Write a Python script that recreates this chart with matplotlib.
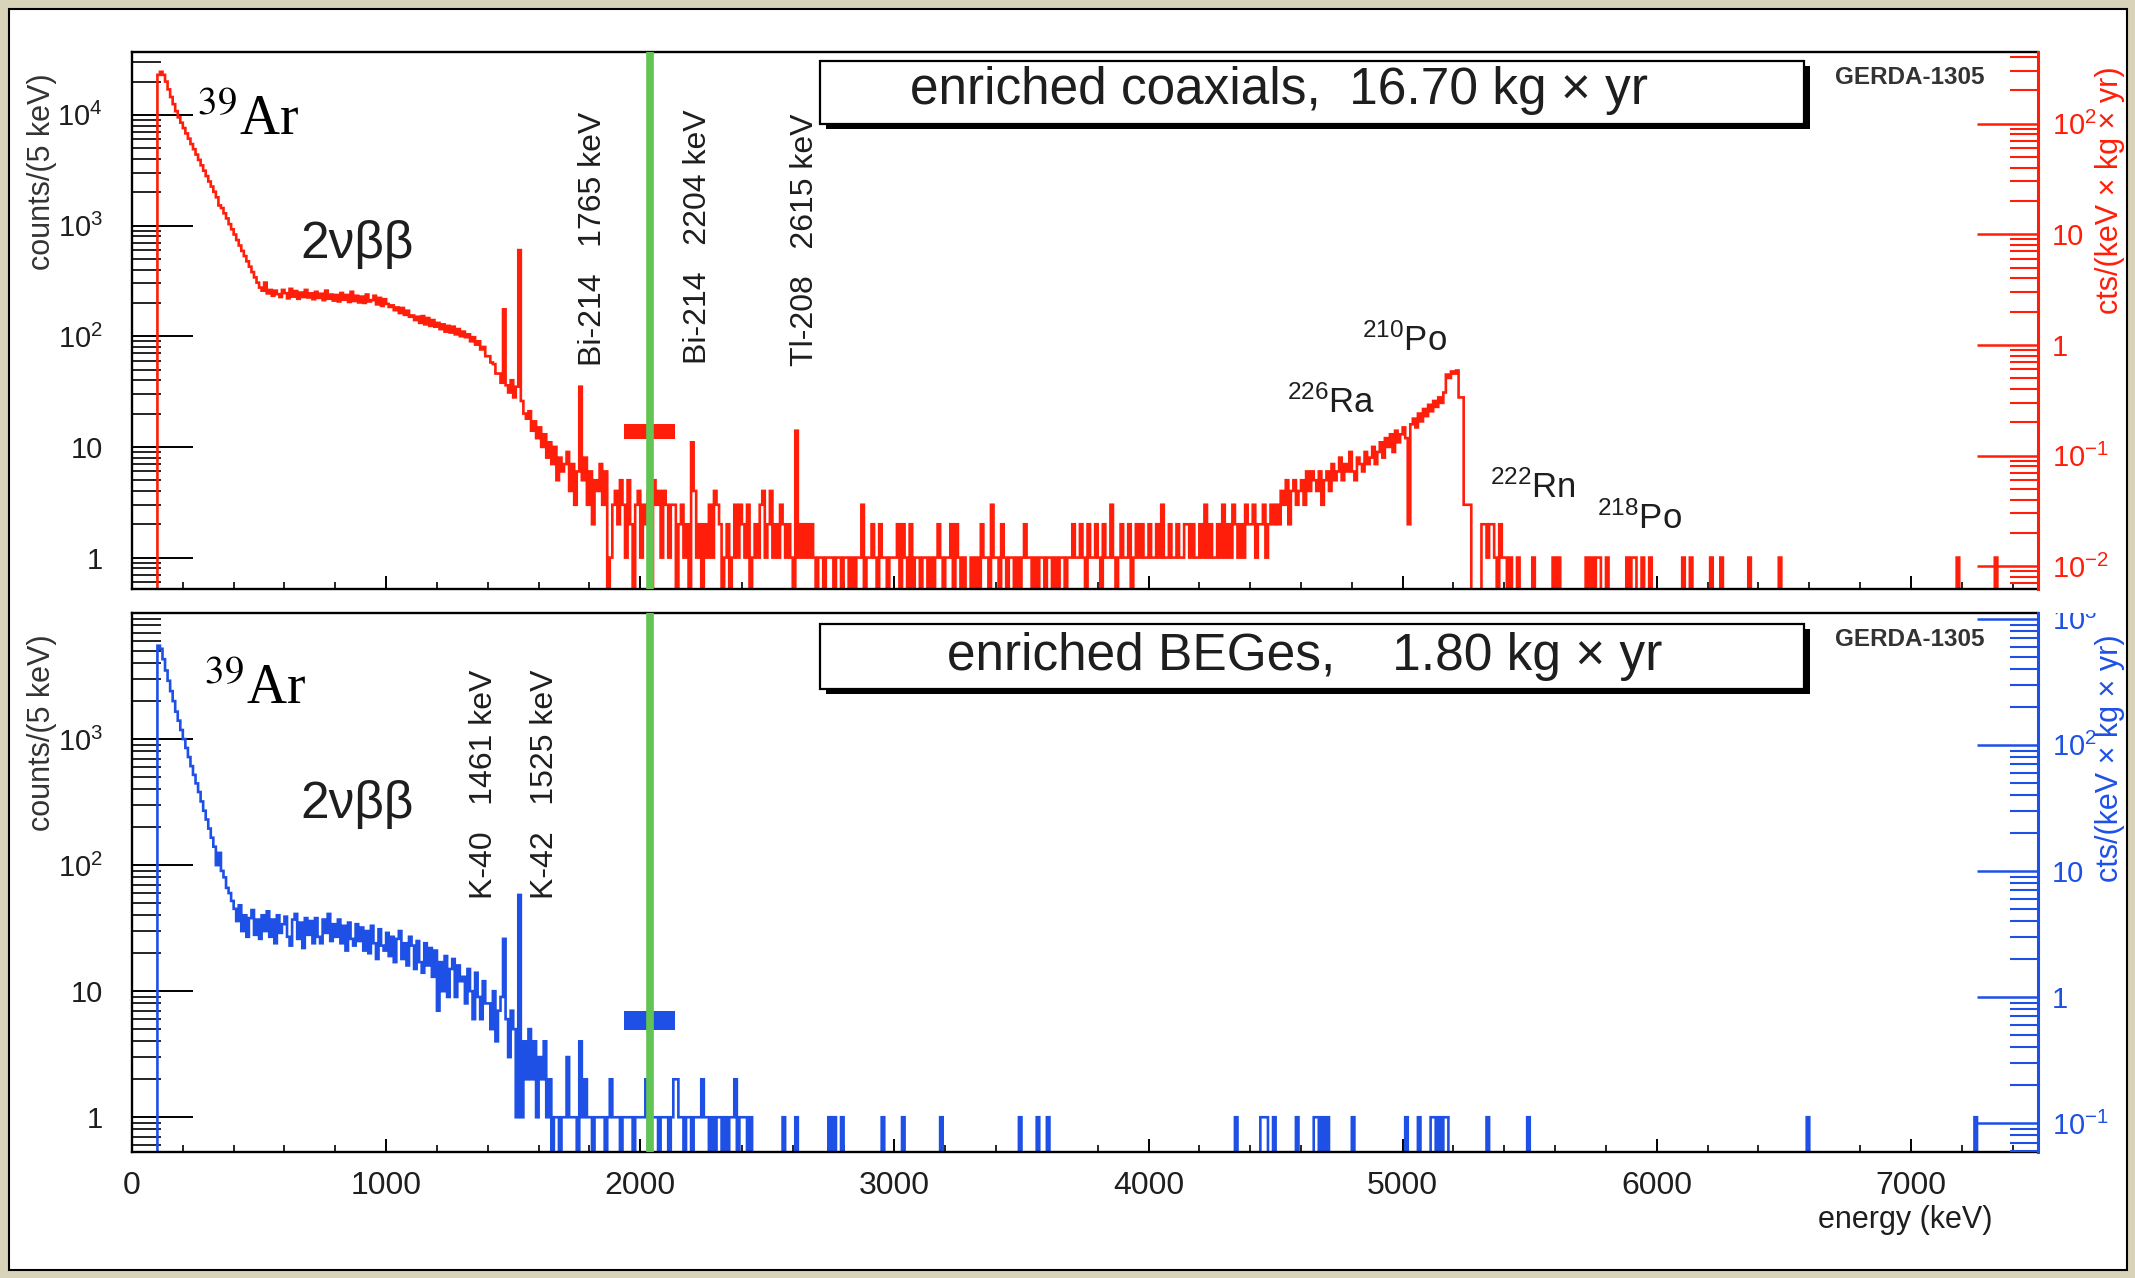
#!/usr/bin/env python3
"""Espectros GERDA: coaxiales enriquecidos (arriba) y BEGe (abajo)."""
import numpy as np
import matplotlib
matplotlib.use("Agg")
import matplotlib.pyplot as plt
from matplotlib.patches import Rectangle
from matplotlib.ticker import (FixedLocator, FixedFormatter, LogLocator,
                               NullFormatter, MultipleLocator)
from matplotlib.transforms import Bbox, TransformedBbox

W, H, DPI = 2135, 1278, 100

plt.rcParams["font.family"] = ["Liberation Sans", "DejaVu Sans"]
plt.rcParams["mathtext.fontset"] = "custom"
plt.rcParams["mathtext.rm"] = "Liberation Sans"
plt.rcParams["mathtext.it"] = "Liberation Sans:italic"
plt.rcParams["mathtext.bf"] = "Liberation Sans:bold"

# --- datos (cuentas / 5 keV, bines de 10 keV) ---
BIN = 10
E_MAX = 7500
Q_BB = 2039
BLIND_E = [1935, 2135]

COAX_EXPOSURE = 16.70
COAX_LOW_START = 100
COAX_LOW = [
    23000, 24500, 23000, 20000, 17000, 14500, 12500, 10800, 9500, 8500,
    7600, 6800, 6100, 5450, 4900, 4380, 3920, 3500, 3130, 2800,
    2500, 2250, 2020, 1800, 1520, 1440, 1290, 1160, 1030, 925,
    830, 740, 660, 590, 530, 475, 425, 380, 340, 305,
    275, 258, 305, 244, 262, 232, 258, 240, 226, 262,
    245, 220, 268, 228, 256, 218, 248, 226, 262, 224,
    244, 216, 252, 222, 242, 212, 258, 218, 238, 210,
    236, 206, 246, 214, 236, 204, 252, 208, 232, 202,
    228, 200, 238, 206, 212, 232, 194, 222, 188, 216,
    196, 184, 190, 172, 182, 162, 180, 156, 170, 150,
    154, 140, 150, 132, 152, 128, 146, 124, 140, 122,
    132, 116, 128, 110, 124, 108, 122, 104, 116, 100,
    110, 98, 104, 90, 98, 84, 90, 76, 80, 66,
    66, 58, 56, 46, 46, 38, 175, 36, 31, 40,
    28, 35, 600, 26, 20, 18, 21, 14, 17, 12,
    15, 10, 13, 8, 11, 7, 10, 5, 8, 6,
    7, 9, 4, 7, 3, 6, 35, 5, 8, 3,
]
COAX_ROI_START = 1800
COAX_ROI = [
    6, 2, 5, 4, 7, 3, 6, 0, 1, 3,
    4, 2, 5, 3, 1, 5, 2, 0, 3, 4,
    1, 3, 2, 4, 0, 5, 3, 4, 1, 4,
    3, 1, 3, 3, 0, 2, 3, 1, 2, 0,
    11, 4, 1, 2, 0, 2, 1, 3, 1, 4,
    3, 2, 0, 1, 2, 0, 1, 3, 1, 3,
    2, 1, 3, 0, 1, 2, 1, 3, 4, 1,
    2, 4, 1, 2, 1, 3, 2, 1, 2, 1,
    0, 14, 1, 2, 1, 2, 1, 2, 1, 0,
]
COAX_FLAT_START = 2700
COAX_FLAT = [
    1, 1, 0, 1, 1, 1, 0, 1, 1, 0,
    1, 1, 0, 1, 0, 1, 1, 3, 0, 1,
    1, 2, 1, 0, 2, 1, 1, 0, 1, 1,
    1, 2, 0, 2, 1, 0, 2, 0, 1, 1,
    0, 1, 1, 0, 1, 0, 1, 2, 1, 0,
    1, 1, 2, 0, 2, 1, 0, 1, 0, 0,
    1, 0, 1, 0, 2, 1, 1, 0, 3, 1,
    1, 0, 2, 1, 0, 1, 1, 0, 1, 0,
    1, 2, 1, 1, 0, 1, 0, 1, 1, 0,
    1, 1, 0, 1, 0, 1, 1, 0, 1, 1,
    2, 1, 1, 2, 1, 0, 2, 1, 1, 2,
    1, 0, 2, 1, 1, 3, 1, 0, 1, 2,
    1, 1, 2, 0, 1, 2, 1, 2, 1, 1,
    2, 1, 1, 2, 1, 3, 1, 1, 2, 1,
    1, 2, 1, 1, 2, 2, 1, 2, 1, 1,
    2, 1, 3, 1, 2, 1, 1, 2, 1, 3,
    1, 2, 1, 3, 2, 1, 2, 1, 3, 2,
]
COAX_ALPHA_START = 4400
COAX_ALPHA = [
    2, 3, 1, 2, 2, 3, 1, 2, 3, 2,
    3, 2, 4, 3, 5, 2, 4, 5, 3, 4,
    5, 3, 6, 4, 6, 5, 4, 6, 3, 5,
    6, 4, 7, 5, 6, 8, 5, 7, 6, 9,
    6, 5, 8, 7, 6, 9, 7, 8, 10, 7,
    9, 11, 8, 12, 10, 13, 9, 14, 11, 13,
    15, 12, 2, 16, 18, 15, 20, 17, 22, 19,
    24, 21, 26, 23, 28, 25, 31, 45, 42, 48,
    46, 49, 28, 28, 3, 3, 3, 0, 0, 0,
]
COAX_TAIL_E = [5310, 5320, 5330, 5340, 5350, 5360, 5380, 5390, 5400, 5420,
               5450, 5510, 5590, 5610, 5720, 5740, 5760, 5770, 5800, 5880,
               5900, 5910, 5940, 5970, 6100, 6130, 6210, 6250, 6360, 6480,
               7180, 7330]
COAX_TAIL_N = [2, 2, 1, 2, 2, 1, 2, 1, 1, 1,
               1, 1, 1, 1, 1, 1, 1, 1, 1, 1,
               1, 1, 1, 1, 1, 1, 1, 1, 1, 1,
               1, 1]
COAX_BLIND_Y = [11.7, 16.0]

BEGE_EXPOSURE = 1.80
BEGE_LOW_START = 100
BEGE_LOW = [
    5500, 5200, 4300, 3500, 2900, 2400, 2000, 1650, 1400, 1180,
    1000, 850, 720, 610, 520, 445, 380, 320, 270, 230,
    195, 165, 140, 100, 125, 90, 80, 66, 60, 52,
    45, 36, 48, 30, 40, 27, 38, 44, 28, 37,
    26, 40, 30, 43, 27, 37, 24, 40, 29, 34,
    39, 27, 23, 37, 41, 26, 35, 22, 38, 28,
    36, 24, 38, 27, 24, 37, 29, 41, 25, 34,
    27, 37, 24, 33, 21, 35, 26, 23, 34, 25,
    32, 21, 30, 20, 33, 24, 18, 31, 23, 21,
    29, 19, 27, 17, 26, 30, 18, 24, 16, 27,
    23, 15, 25, 17, 14, 24, 16, 22, 13, 21,
    7, 17, 10, 19, 9, 15, 18, 9, 16, 12,
    13, 8, 15, 10, 6, 14, 9, 6, 12, 8,
    8, 5, 10, 4, 7, 9, 26, 6, 3, 7,
    5, 1, 58, 1, 4, 2, 5, 2, 4, 1,
    3, 2, 4, 1, 2, 0, 1, 1, 0, 1,
]
BEGE_MID_START = 1700
BEGE_MID = [
    1, 3, 1, 1, 1, 0, 4, 1, 2, 1,
    1, 0, 1, 1, 1, 1, 0, 1, 2, 1,
    1, 1, 0, 1, 1, 1, 1, 0, 1, 1,
    1, 1, 2, 0, 1, 1, 1, 0, 1, 1,
    1, 0, 1, 2, 2, 1, 1, 0, 1, 1,
    0, 1, 1, 1, 2, 1, 1, 0, 1, 0,
    1, 1, 0, 1, 0, 1, 1, 2, 0, 1,
    1, 1, 0, 1, 0, 0, 0, 0, 0, 0,
]
BEGE_TAIL_E = [2560, 2610, 2740, 2760, 2790, 2950, 3030, 3180, 3490, 3560,
               3600, 4340, 4440, 4450, 4460, 4490, 4580, 4650, 4660, 4680,
               4700, 4800, 5010, 5060, 5110, 5120, 5140, 5160, 5170, 5330,
               5490, 6590, 7250]
BEGE_TAIL_N = [1] * len(BEGE_TAIL_E)
BEGE_BLIND_Y = [4.9, 6.9]

RED = "#ff1e0a"
BLUE = "#1e50e6"
GREEN = "#62c453"
TXT = "#1e1e1e"


def build_hist(segments, tail_e, tail_n):
    vals = np.zeros(E_MAX // BIN)
    for start, seg in segments:
        i0 = start // BIN
        vals[i0:i0 + len(seg)] = seg
    for e, n in zip(tail_e, tail_n):
        vals[e // BIN] = n
    return vals


def px(x, y):
    return x / W, 1 - y / H


edges = np.arange(0, E_MAX + BIN, BIN)
coax = build_hist([(COAX_LOW_START, COAX_LOW), (COAX_ROI_START, COAX_ROI),
                   (COAX_FLAT_START, COAX_FLAT), (COAX_ALPHA_START, COAX_ALPHA)],
                  COAX_TAIL_E, COAX_TAIL_N)
bege = build_hist([(BEGE_LOW_START, BEGE_LOW), (BEGE_MID_START, BEGE_MID)],
                  BEGE_TAIL_E, BEGE_TAIL_N)

fig = plt.figure(figsize=(W / DPI, H / DPI), dpi=DPI, facecolor="#d8d3b9")
fig.patches.append(Rectangle(px(9, 1270), 2118 / W, 1261 / H, transform=fig.transFigure,
                             facecolor="white", edgecolor="black", lw=1.5, zorder=-1))

ax1 = fig.add_axes([132 / W, 1 - 589 / H, 1906 / W, 537 / H])
ax2 = fig.add_axes([132 / W, 1 - 1152 / H, 1906 / W, 539 / H])

panels = [
    (ax1, coax, RED, COAX_BLIND_Y, (0.52, 3.7e4), COAX_EXPOSURE,
     [1, 10, 100, 1000, 10000], ["1", "10", "$10^{2}$", "$10^{3}$", "$10^{4}$"],
     [0.01, 0.1, 1, 10, 100], ["$10^{-2}$", "$10^{-1}$", "1", "10", "$10^{2}$"]),
    (ax2, bege, BLUE, BEGE_BLIND_Y, (0.53, 1.0e4), BEGE_EXPOSURE,
     [1, 10, 100, 1000], ["1", "10", "$10^{2}$", "$10^{3}$"],
     [0.1, 1, 10, 100, 1000], ["$10^{-1}$", "1", "10", "$10^{2}$", "$10^{3}$"]),
]

for ax, vals, col, blind_y, ylim, expo, lt, ll, rt, rl in panels:
    ax.set_yscale("log")
    ax.stairs(np.where(vals > 0, vals, 0.01), edges, color=col, lw=1.9,
              baseline=None, zorder=2)
    ax.fill_between(BLIND_E, blind_y[0], blind_y[1], color=col, lw=0, zorder=2)
    ax.axvline(Q_BB, color=GREEN, lw=5.5, zorder=4)
    ax.set_xlim(0, E_MAX)
    ax.set_ylim(*ylim)

    ax.xaxis.set_major_locator(MultipleLocator(1000))
    ax.xaxis.set_minor_locator(MultipleLocator(200))
    ax.yaxis.set_major_locator(FixedLocator(lt))
    ax.yaxis.set_major_formatter(FixedFormatter(ll))
    ax.yaxis.set_minor_locator(LogLocator(base=10, subs=np.arange(2, 10), numticks=50))
    ax.yaxis.set_minor_formatter(NullFormatter())
    ax.tick_params(axis="y", which="major", direction="in", length=44, width=1.4,
                   pad=21, labelsize=21, labelcolor=TXT, right=False)
    ax.tick_params(axis="y", which="minor", direction="in", length=21, width=1.2, right=False)
    ax.tick_params(axis="x", which="major", direction="in", length=9.5, width=1.4,
                   pad=14, labelsize=23, labelcolor=TXT, top=False)
    ax.tick_params(axis="x", which="minor", direction="in", length=5, width=1.2, top=False)
    for s in ("left", "top", "bottom"):
        ax.spines[s].set_linewidth(1.7)
    ax.spines["right"].set_visible(False)

    # eje derecho: cts/(keV x kg x yr)
    f = 5 * expo
    axr = ax.twinx()
    axr.set_yscale("log")
    axr.set_ylim(ylim[0] / f, ylim[1] / f)
    axr.yaxis.set_major_locator(FixedLocator(rt))
    axr.yaxis.set_major_formatter(FixedFormatter(rl))
    axr.yaxis.set_minor_locator(LogLocator(base=10, subs=np.arange(2, 10), numticks=50))
    axr.yaxis.set_minor_formatter(NullFormatter())
    axr.tick_params(axis="y", which="major", direction="in", length=44, width=1.8,
                    color=col, labelcolor=col, labelsize=21, pad=10)
    axr.tick_params(axis="y", which="minor", direction="in", length=20, width=1.5, color=col)
    for s in ("left", "top", "bottom"):
        axr.spines[s].set_visible(False)
    axr.spines["right"].set_color(col)
    axr.spines["right"].set_linewidth(2.2)
    clip = TransformedBbox(Bbox.from_extents(0.9, -0.2, 1.2, 1.0), axr.transAxes)
    for t in axr.yaxis.get_major_ticks():
        t.label2.set_clip_on(True)
        t.label2.set_clip_box(clip)

ax1.tick_params(labelbottom=False)

# --- textos ---
fig.text(*px(1992, 1220), "energy (keV)", fontsize=22, color=TXT, ha="right", va="center")
for yc in (172, 733):
    fig.text(*px(42, yc), "counts/(5 keV)", fontsize=22, color="#333333",
             rotation=90, ha="center", va="center")
fig.text(*px(2110, 190), "cts/(keV × kg × yr)", fontsize=22, color=RED,
         rotation=90, ha="center", va="center")
fig.text(*px(2110, 758), "cts/(keV × kg × yr)", fontsize=22, color=BLUE,
         rotation=90, ha="center", va="center")

# cajas con sombra
for (x0, y0, x1, y1) in [(820, 61, 1804, 124), (820, 624, 1804, 689)]:
    fig.patches.append(Rectangle(px(x0 + 6, y1 + 5), (x1 - x0) / W, (y1 - y0) / H,
                                 transform=fig.transFigure, facecolor="black",
                                 edgecolor="none", zorder=3))
    fig.patches.append(Rectangle(px(x0, y1), (x1 - x0) / W, (y1 - y0) / H,
                                 transform=fig.transFigure, facecolor="white",
                                 edgecolor="black", lw=1.6, zorder=3))
fig.text(*px(910, 104), "enriched coaxials,  16.70 kg × yr", fontsize=37, color=TXT,
         ha="left", va="baseline", zorder=5)
fig.text(*px(947, 670), "enriched BEGes,    1.80 kg × yr", fontsize=37, color=TXT,
         ha="left", va="baseline", zorder=5)
for yc in (77, 639):
    fig.text(*px(1910, yc), "GERDA-1305", fontsize=17.5, fontweight="bold",
             color="#333333", ha="center", va="center")

for (x, y) in [(197, 135), (204, 704)]:
    fig.text(*px(x, y), r"$^{39}$Ar", fontsize=40, family="Liberation Serif",
             math_fontfamily="stix", color="black", ha="left", va="baseline")
for (x, y) in [(300, 258), (300, 818)]:
    fig.text(*px(x, y), "2νββ", fontsize=37, color=TXT, ha="left", va="baseline")

for (x, y, s) in [(593, 366, "Bi-214   1765 keV"), (698, 364, "Bi-214   2204 keV"),
                  (805, 366, "Tl-208   2615 keV"), (484, 899, "K-40   1461 keV"),
                  (545, 899, "K-42   1525 keV")]:
    fig.text(*px(x, y), s, fontsize=23, color=TXT, rotation=90, ha="center", va="bottom")

for (x, y, s) in [(1362, 351, r"$^{210}$Po"), (1287, 413, r"$^{226}$Ra"),
                  (1490, 498, r"$^{222}$Rn"), (1597, 529, r"$^{218}$Po")]:
    fig.text(*px(x, y), s, fontsize=25, color=TXT, ha="left", va="baseline")

fig.savefig("out.png", dpi=DPI, facecolor=fig.get_facecolor())
